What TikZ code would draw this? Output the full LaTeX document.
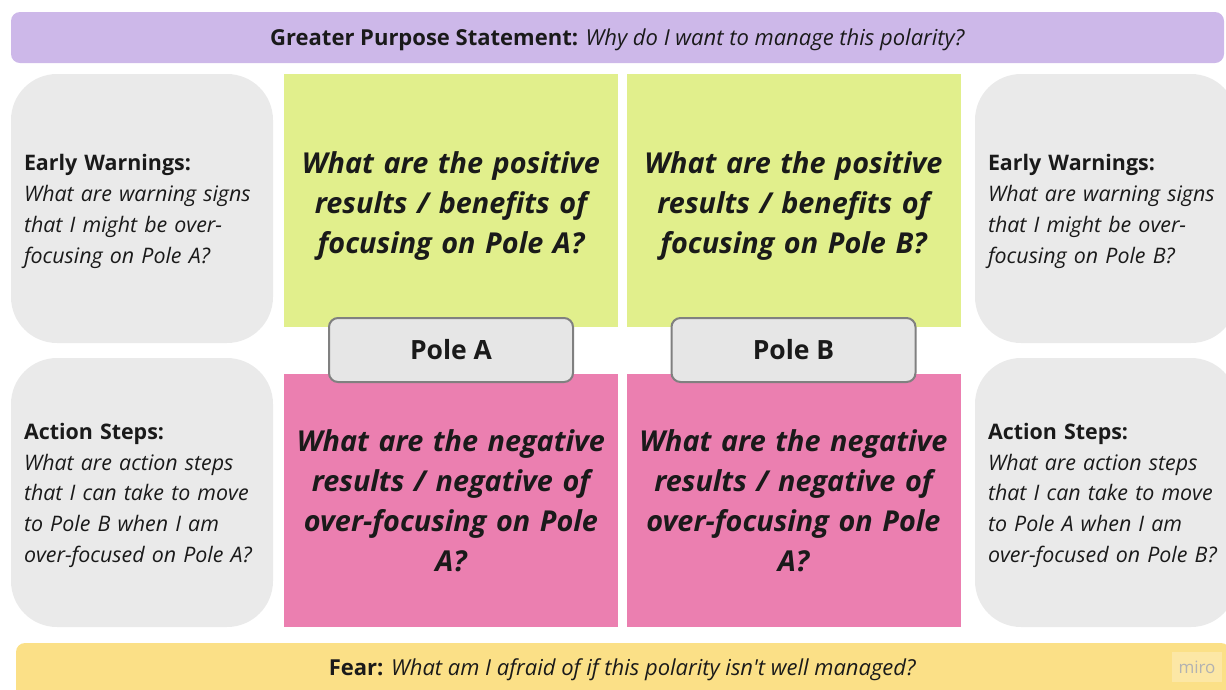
\documentclass[tikz,border=0pt]{standalone}
\usepackage{fontspec}
\setmainfont{Open Sans}[Ligatures=TeXOff]
\usetikzlibrary{positioning}

\definecolor{purposefill}{HTML}{CDB8E9}
\definecolor{fearfill}{HTML}{FBE087}
\definecolor{sidefill}{HTML}{EAEAEA}
\definecolor{posfill}{HTML}{E1EF8C}
\definecolor{negfill}{HTML}{EB7FB0}
\definecolor{polefill}{HTML}{E6E6E6}
\definecolor{poleline}{HTML}{808080}
\definecolor{ink}{HTML}{1A1A1A}

\newcommand{\firstline}[1]{\rule{0pt}{#1}}

\tikzset{
	bar/.style={rounded corners=9pt, inner sep=0pt, text=ink, font=\fontsize{22}{26}\selectfont},
	sidebox/.style={fill=sidefill, rounded corners=46pt, minimum width=262pt, minimum height=269pt,
		text width=236pt, align=left, inner sep=0pt, text=ink, font=\fontsize{21.4}{30.8}\selectfont},
	quadrant/.style={minimum width=334pt, minimum height=253pt, inner sep=0pt, text width=330pt,
		align=center, text=ink, font=\fontsize{28.8}{40}\selectfont\bfseries\itshape},
	polebox/.style={fill=polefill, draw=poleline, line width=2pt, rounded corners=9pt,
		minimum width=244pt, minimum height=64pt, inner sep=0pt, text=ink,
		font=\fontsize{26.5}{30}\selectfont\bfseries}
}

\begin{document}
\begin{tikzpicture}[x=1pt,y=-1pt]
	\useasboundingbox (0,0) rectangle (1226,689);
	\clip (0,0) rectangle (1226,689);

	\node[bar, fill=purposefill, minimum width=1213pt, minimum height=51pt] (purpose) at (617.5,37.5) {};
	\node[bar] (purposetext) at (617.5,40) {\textbf{Greater Purpose Statement:} \textit{Why do I want to manage this polarity?}};

	\node[bar, fill=fearfill, minimum width=1214pt, minimum height=60pt] (fear) at (623,673) {};
	\node[bar] (feartext) at (622.5,670) {\textbf{Fear:} \textit{What am I afraid of if this polarity isn't well managed?}};

	\foreach \x/\p/\q in {142/A/B,1106/B/A} {
		\node[sidebox] (warn\p) at (\x,208.5) {\firstline{22pt}\textbf{Early Warnings:}\\\textit{What are warning signs}\\\textit{that I might be over-}\\\textit{focusing on Pole \p?}};
		\node[sidebox] (act\p) at (\x,492.5) {\firstline{22pt}\textbf{Action Steps:}\\\textit{What are action steps}\\\textit{that I can take to move}\\\textit{to Pole \q\ when I am}\\\textit{over-focused on Pole \p?}};
	}

	\foreach \x/\p in {451/A,793.5/B} {
		\node[quadrant, fill=posfill] (pos\p) at (\x,200.5) {\firstline{32pt}What are the positive\\results / benefits of\\focusing on Pole \p?};
		\node[quadrant, fill=negfill] (neg\p) at (\x,500.5) {What are the negative\\results / negative of\\over-focusing on Pole\\A?};
		\node[polebox] (pole\p) at (\x,350) {Pole \p};
	}

	\node[fill=white, fill opacity=0.25, text opacity=1, text=black!30, minimum width=50pt, minimum height=30pt,
		font=\fontsize{17}{20}\selectfont] (miro) at (1197,667) {miro};
\end{tikzpicture}
\end{document}
